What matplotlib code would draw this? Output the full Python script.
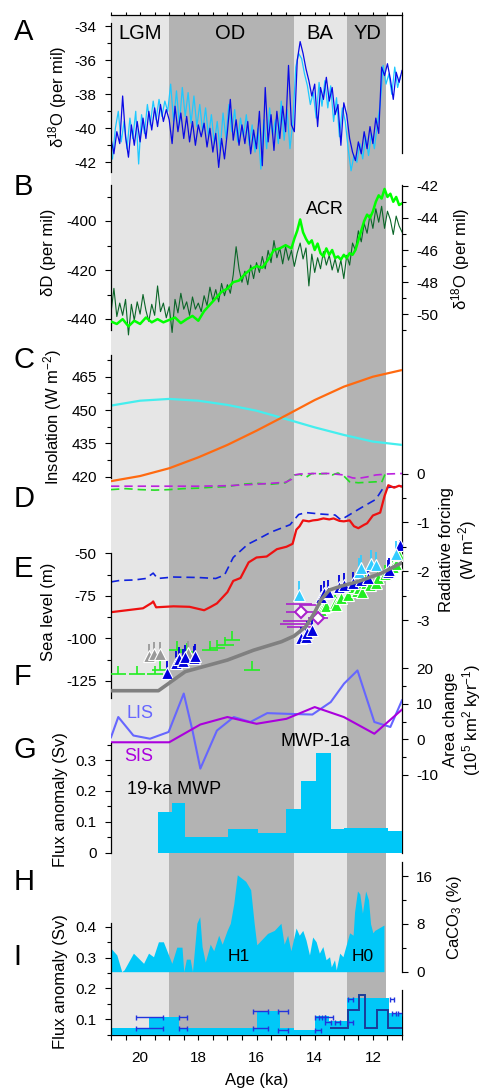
import numpy as np
import matplotlib.pyplot as plt

plt.rcParams['font.family'] = ['Liberation Sans', 'DejaVu Sans']
plt.rcParams['mathtext.fontset'] = 'custom'
plt.rcParams['mathtext.rm'] = 'Liberation Sans'
plt.rcParams['mathtext.it'] = 'Liberation Sans:italic'
plt.rcParams['axes.unicode_minus'] = False

W, H = 482, 1091          # output size, px
XL, XR = 111, 402         # left / right edge of the plot area, px
TICK_FS = 11
LABEL_FS = 12

# ---------------- data ----------------
period_names = ['LGM', 'OD', 'BA', 'YD']
period_edges = [21.0, 19.0, 14.7, 12.9, 11.55]
period_colors = ['#e6e6e6', '#b3b3b3', '#e6e6e6', '#b3b3b3']
period_label_age = [20.0, 16.9, 13.82, 12.18]

age_major = [20, 18, 16, 14, 12]
age_minor = list(np.arange(11.0, 21.01, 0.5))

# A: Greenland d18O, two records
a_blue_age = np.round(np.arange(21.0, 10.95, -0.1), 2)
a_blue = [-40.6, -41.5, -40.2, -40.9, -38.1, -40.5, -41.7, -39.8, -41.0, -39.6,
          -40.8, -39.4, -40.6, -39.0, -40.1, -38.8, -39.9, -38.6, -39.6, -38.9,
          -39.5, -40.9, -38.7, -40.2, -39.1, -40.6, -39.3, -40.8, -39.6, -41.0,
          -39.8, -40.5, -39.7, -41.1, -40.0, -41.4, -40.3, -42.3, -40.6, -41.8,
          -40.2, -38.3, -40.7, -39.5, -41.0, -39.8, -40.9, -39.6, -41.5, -40.1,
          -41.2, -39.0, -42.2, -37.6, -40.8, -39.2, -41.3, -39.0, -40.6, -38.7,
          -40.2, -36.3, -39.8, -40.2, -36.0, -34.9, -35.6, -36.5, -37.2, -38.1,
          -37.4, -39.9, -37.6, -38.3, -37.0, -38.4, -37.6, -39.2, -38.6, -41.0,
          -38.5, -39.2, -40.6, -41.4, -41.9, -40.8, -41.5, -40.2, -41.2, -39.9,
          -40.9, -39.4, -40.3, -36.4, -36.9, -36.2, -37.1, -38.3, -36.7, -37.3,
          -36.6]
a_cyan_age = np.round(np.arange(20.95, 11.0, -0.1), 2)
a_cyan = [-41.8, -40.0, -39.0, -40.8, -39.6, -41.2, -39.4, -40.6, -39.0, -42.1,
          -39.2, -40.3, -38.6, -39.8, -38.4, -39.5, -38.3, -39.3, -38.4, -39.0,
          -37.4, -39.6, -37.8, -39.8, -37.6, -39.3, -37.9, -39.7, -38.1, -39.9,
          -38.6, -40.2, -38.8, -40.5, -39.2, -40.9, -39.6, -41.3, -39.1, -40.6,
          -38.6, -40.2, -38.9, -40.8, -39.4, -40.5, -39.2, -41.0, -39.8, -41.4,
          -40.0, -42.4, -39.5, -41.2, -38.8, -40.4, -39.5, -40.9, -38.4, -40.7,
          -38.9, -41.2, -39.6, -36.4, -35.6, -35.9, -36.8, -37.5, -38.6, -37.9,
          -39.4, -37.3, -38.7, -37.2, -38.8, -37.5, -39.6, -38.2, -40.5, -38.8,
          -39.6, -41.2, -42.5, -41.6, -42.0, -40.9, -41.8, -40.5, -41.6, -40.3,
          -41.2, -39.8, -38.6, -36.3, -37.4, -36.8, -38.0, -36.4, -37.6, -36.9]

# B: Antarctic dD (dark green) and d18O (bright green)
b_dd_age = np.round(np.arange(21.0, 10.95, -0.1), 2)
b_dd = [-437.5, -427.5, -439.0, -433.5, -438.5, -432.0, -446.5, -434.0, -440.5, -433.0,
        -438.0, -430.0, -436.5, -441.0, -434.0, -438.5, -426.5, -437.0, -433.5, -439.5,
        -435.0, -445.5, -432.0, -437.5, -429.5, -436.0, -433.0, -438.5, -431.0, -436.0,
        -433.5, -437.0, -430.5, -434.5, -427.0, -432.5, -428.0, -433.0, -425.5, -430.5,
        -426.0, -429.5, -422.0, -410.5, -419.5, -425.0, -420.5, -426.0, -418.0, -423.5,
        -417.0, -421.0, -414.5, -419.5, -412.0, -417.0, -408.0, -415.0, -411.0, -417.5,
        -410.5, -416.0, -412.0, -418.5, -413.0, -409.0, -415.5, -411.0, -426.5, -413.5,
        -421.0, -415.0, -419.5, -412.5, -418.0, -414.0, -420.0, -415.5, -421.0, -416.0,
        -423.5, -414.0, -418.0, -409.0, -412.0, -404.0, -408.5, -401.0, -405.0, -397.5,
        -403.0, -395.0, -400.5, -394.0, -403.0, -396.0, -399.5, -405.5, -398.0, -402.0,
        -404.5]
b_o18_age = [21.0, 20.8, 20.6, 20.4, 20.2, 20.0, 19.8, 19.6, 19.4, 19.2, 19.0, 18.8,
             18.6, 18.4, 18.2, 18.0, 17.8, 17.6, 17.4, 17.2, 17.0, 16.8, 16.6, 16.4,
             16.2, 16.0, 15.8, 15.6, 15.4, 15.2, 15.0, 14.8, 14.7, 14.6, 14.5, 14.4,
             14.3, 14.2, 14.1, 14.0, 13.9, 13.8, 13.7, 13.6, 13.5, 13.4, 13.3, 13.2,
             13.1, 13.0, 12.9, 12.8, 12.7, 12.6, 12.5, 12.4, 12.3, 12.2, 12.1, 12.0,
             11.9, 11.8, 11.7, 11.6, 11.5, 11.4, 11.3, 11.2, 11.1, 11.0]
b_o18 = [-50.45, -50.6, -50.3, -50.75, -50.4, -50.6, -50.2, -50.5, -50.3, -50.5, -50.35, -50.2,
         -50.55, -50.3, -50.1, -50.4, -49.8, -49.4, -49.0, -48.6, -48.4, -48.0, -47.9, -47.5,
         -47.2, -47.0, -47.1, -46.6, -46.0, -45.9, -45.7, -45.9, -45.3, -44.8, -44.1, -44.9,
         -45.3, -45.6, -45.4, -46.0, -45.6, -46.2, -46.4, -45.9, -46.3, -46.0, -46.5, -46.4,
         -46.6, -46.3, -46.5, -46.2, -46.3, -46.0, -45.4, -44.8, -44.2, -43.8, -44.0, -43.6,
         -43.0, -42.6, -42.8, -42.2, -42.7, -42.5, -43.0, -42.7, -43.2, -43.1]

# C: insolation
ins_age = [21, 20, 19, 18, 17, 16, 15, 14, 13, 12, 11]
ins_cyan = [452.0, 454.2, 455.0, 454.2, 452.3, 449.7, 446.0, 442.2, 438.8, 435.8, 434.3]
ins_orange = [418.0, 420.3, 423.8, 428.7, 434.3, 440.7, 447.5, 454.5, 460.5, 465.0, 468.0]

# D: radiative forcing
rf_green_age = [21.0, 20.5, 20.0, 19.5, 19.0, 18.5, 18.0, 17.5, 17.0, 16.5, 16.0, 15.5,
                15.0, 14.8, 14.7, 14.5, 14.3, 14.1, 13.9, 13.6, 13.4, 13.2, 13.0, 12.8,
                12.5, 12.2, 11.9, 11.7, 11.55]
rf_green = [-0.33, -0.31, -0.33, -0.34, -0.33, -0.31, -0.30, -0.28, -0.27, -0.22, -0.20, -0.22,
            -0.19, -0.10, -0.03, -0.02, -0.08, 0.0, -0.01, 0.0, -0.03, 0.01, -0.05, -0.17,
            -0.19, -0.18, -0.17, -0.18, 0.03]
rf_purple_age = [21.0, 20.0, 19.0, 18.0, 17.0, 16.0, 15.0, 14.8, 14.7, 14.5, 14.0, 13.5,
                 13.0, 12.7, 12.5, 12.2, 11.9, 11.5, 11.0]
rf_purple = [-0.26, -0.26, -0.26, -0.26, -0.25, -0.22, -0.18, -0.12, -0.03, -0.01, 0.0, 0.0,
             -0.03, -0.09, -0.10, -0.07, -0.03, -0.01, 0.0]
rf_blue_age = [21.0, 20.7, 20.2, 19.8, 19.55, 19.4, 18.85, 18.0, 17.4, 17.1, 16.8, 16.3,
               16.0, 15.5, 14.85, 14.55, 14.3, 13.8, 13.3, 13.1, 12.4, 11.9, 11.65, 11.4, 11.0]
rf_blue = [-2.22, -2.19, -2.18, -2.15, -2.04, -2.15, -2.12, -2.13, -2.15, -2.08, -1.72, -1.45,
           -1.36, -1.20, -1.05, -0.84, -0.80, -0.83, -0.85, -0.95, -0.70, -0.53, -0.30, -0.28, -0.26]
rf_red_age = [21.0, 20.45, 19.9, 19.6, 19.55, 19.45, 18.85, 18.3, 17.8, 17.6, 17.36, 17.0,
              16.8, 16.55, 16.27, 16.0, 15.65, 15.3, 14.97, 14.76, 14.63, 14.52, 14.4, 14.2,
              14.06, 13.9, 13.7, 13.5, 13.35, 13.15, 13.0, 12.8, 12.65, 12.5, 12.3, 12.2,
              12.0, 11.75, 11.6, 11.47, 11.27, 11.1, 11.0]
rf_red = [-2.84, -2.80, -2.76, -2.65, -2.62, -2.74, -2.72, -2.73, -2.80, -2.74, -2.66, -2.43,
          -2.20, -2.14, -1.82, -1.72, -1.70, -1.55, -1.50, -1.44, -1.15, -1.08, -0.96, -0.98,
          -0.96, -0.95, -0.92, -0.94, -0.92, -0.97, -0.98, -0.96, -1.08, -1.12, -1.05, -1.02,
          -0.86, -0.80, -0.46, -0.24, -0.29, -0.25, -0.27]

# E: sea level
sl_age = [21.0, 19.37, 18.45, 17.0, 16.1, 15.14, 14.71, 14.31, 14.02, 13.79, 13.5, 13.1,
          12.53, 11.72, 11.0]
sl_curve = [-130.7, -130.7, -119.5, -112.7, -106.9, -101.9, -98.6, -93.1, -85.3, -77.5,
            -71.6, -69.3, -66.7, -61.8, -55.5]
tri_gray_age = [19.68, 19.51, 19.33, 18.36]
tri_gray_sl = [-110.3, -109.2, -109.2, -108.8]
tri_blue_age = [19.06, 18.77, 18.68, 18.53, 18.45, 18.16, 18.10, 14.48, 14.31, 14.25, 14.08,
                13.79, 13.68, 13.56, 13.16, 12.99, 12.70, 12.41, 12.18, 11.49, 11.44, 11.08]
tri_blue_sl = [-120.5, -114.6, -112.3, -113.1, -111.1, -111.7, -110.3, -100.0, -99.0, -97.0, -95.1,
               -75.5, -73.5, -72.6, -69.7, -68.7, -67.7, -65.7, -64.7, -60.8, -59.9, -45.0]
tri_green_age = [13.79, 13.68, 13.60, 13.30, 13.28, 13.10, 12.87, 12.70, 12.55, 12.47, 12.36,
                 12.24, 12.10, 11.90, 11.84, 11.60, 11.32, 11.20, 11.09]
tri_green_sl = [-83.3, -81.4, -81.0, -79.4, -80.4, -76.0, -74.5, -69.7, -72.0, -70.6, -72.6,
                -67.7, -68.5, -67.7, -64.7, -62.0, -57.9, -56.0, -51.1]
tri_cyan_age = [14.54, 12.47, 12.41, 12.07, 11.90, 11.20]
tri_cyan_sl = [-74.5, -60.8, -58.9, -56.0, -57.0, -50.5]
lim_green_age = [20.75, 20.11, 19.48, 19.31, 18.73, 18.39, 17.59, 17.36, 17.07, 16.84, 16.15]
lim_green_sl = [-120.9, -120.9, -120.9, -118.5, -106.8, -107.8, -106.8, -105.8, -103.9, -100.9, -118.5]
dia_age = [14.48, 13.89]
dia_sl = [-84.7, -87.8]
dia_xerr = [0.5, 0.35]
bar_purple_age = [14.55, 14.60, 14.65, 14.50, 14.25]
bar_purple_sl = [-79.5, -89.5, -91.5, -93.5, -80.5]
bar_purple_xerr = [0.45, 0.50, 0.55, 0.45, 0.30]

# F: ice-sheet area change
lis_age = [21.0, 20.75, 20.23, 19.66, 19.02, 18.5, 18.2, 17.93, 17.36, 16.78, 16.21, 15.63,
           14.94, 14.08, 13.45, 12.99, 12.53, 11.95, 11.4, 11.0]
lis = [0.6, 6.3, 1.1, 0.2, 2.1, 12.9, 2.5, -8.2, 2.5, 6.3, 4.9, 7.4, 7.2, 7.0, 10.5, 15.7,
       19.4, 4.9, 3.5, 11.0]
sis_age = [21.0, 19.0, 17.93, 17.0, 16.0, 14.97, 14.0, 13.0, 11.95, 11.0]
sis = [-0.8, -0.8, 4.2, 6.3, 4.4, 5.8, 9.1, 6.3, 1.6, 8.4]

# G: meltwater flux anomaly (bins, ascending age)
g_edges = [11.0, 11.49, 11.97, 12.99, 13.45, 13.97, 14.48, 14.97, 15.95, 16.98, 18.45, 18.91, 19.37]
g_flux = [0.07, 0.08, 0.079, 0.077, 0.322, 0.232, 0.14, 0.063, 0.077, 0.052, 0.162, 0.133]

# H: CaCO3
h_age = [21.0, 20.8, 20.63, 20.55, 20.23, 19.88, 19.71, 19.54, 19.37, 19.2, 18.91, 18.74,
         18.56, 18.5, 18.41, 18.28, 18.2, 18.05, 17.95, 17.87, 17.76, 17.59, 17.47, 17.3,
         17.18, 17.01, 16.9, 16.78, 16.66, 16.37, 16.2, 16.08, 15.99, 15.62, 15.39, 15.16,
         15.05, 14.93, 14.82, 14.64, 14.53, 14.41, 14.3, 14.18, 14.07, 13.95, 13.84, 13.72,
         13.61, 13.49, 13.43, 13.32, 13.26, 13.14, 13.03, 12.91, 12.8, 12.68, 12.63, 12.53,
         12.45, 12.36, 12.25, 12.15, 12.08, 12.0, 11.94, 11.62]
h_caco3 = [3.9, 2.8, 0.0, 0.3, 3.1, 1.4, 3.1, 2.5, 5.0, 5.0, 1.4, 4.1,
           4.1, 0.0, 2.1, 2.1, 0.0, 8.1, 9.2, 4.2, 1.6, 4.6, 3.5, 6.1,
           4.6, 6.9, 8.1, 11.4, 16.2, 15.1, 13.7, 8.1, 4.5, 6.4, 6.9, 8.1,
           4.6, 6.1, 3.5, 7.3, 6.1, 6.9, 5.3, 2.8, 5.8, 5.0, 3.1, 4.2,
           2.0, 2.5, 0.8, 2.0, 0.3, 3.1, 2.5, 4.6, 6.5, 6.1, 10.0, 13.5,
           13.0, 9.8, 13.5, 12.0, 8.0, 6.5, 6.9, 7.8]

# I: flux anomaly, model input (bins, ascending age) and reconstruction steps
i_edges = [11.0, 11.45, 12.9, 13.5, 14.0, 14.7, 15.2, 16.0, 18.65, 19.7, 21.0]
i_flux = [0.121, 0.168, 0.093, 0.11, 0.066, 0.071, 0.128, 0.071, 0.108, 0.071]
i_step_edges = [11.0, 11.49, 11.86, 12.26, 12.47, 12.87, 13.47]
i_step = [0.071, 0.13, 0.071, 0.18, 0.13, 0.071]
i_eb_age = [19.67, 19.67, 18.53, 18.53, 15.86, 15.86, 15.09, 15.09, 13.87, 13.75, 13.50,
            13.55, 13.22, 13.89, 12.78, 12.78, 11.35, 11.28, 11.05]
i_eb_hw = [0.47, 0.47, 0.13, 0.13, 0.27, 0.27, 0.16, 0.16, 0.13, 0.09, 0.13,
           0.10, 0.09, 0.11, 0.08, 0.08, 0.07, 0.075, 0.085]
i_eb_flux = [0.108, 0.071, 0.108, 0.071, 0.128, 0.071, 0.128, 0.065, 0.108, 0.109, 0.108,
             0.092, 0.092, 0.065, 0.166, 0.092, 0.166, 0.121, 0.121]

# ---------------- layout helpers ----------------
fig = plt.figure(figsize=(W / 100, H / 100), dpi=100)


def px_box(top, bottom):
    return [XL / W, 1 - bottom / H, (XR - XL) / W, (bottom - top) / H]


def panel(top, bottom, v1, p1, v2, p2, right=False):
    """Transparent axes spanning pixel rows top..bottom; value v1 sits at row p1, v2 at p2."""
    ax = fig.add_axes(px_box(top, bottom))
    ax.patch.set_visible(False)
    k = (v2 - v1) / (p2 - p1)
    ax.set_ylim(v1 + (bottom - p1) * k, v1 + (top - p1) * k)
    ax.set_xlim(21, 11)
    ax.set_xticks([])
    for s in ax.spines.values():
        s.set_visible(False)
    if right:
        ax.yaxis.tick_right()
    ax.tick_params(axis='y', which='major', direction='out', length=4.3, width=0.8,
                   pad=6, labelsize=TICK_FS)
    ax.tick_params(axis='y', which='minor', direction='out', length=2.7, width=0.8)
    ax.px2val = lambda p: v1 + (p - p1) * k
    return ax


def yticks(ax, major, minor):
    ax.set_yticks(major)
    ax.set_yticklabels([f'{v:g}' for v in major])
    ax.set_yticks(minor, minor=True)


def spine(ax, side, ptop, pbot):
    sp = ax.spines[side]
    sp.set_visible(True)
    sp.set_linewidth(0.9)
    sp.set_bounds(ax.px2val(pbot), ax.px2val(ptop))


def ftext(x, y, s, **kw):
    fig.text(x / W, 1 - y / H, s, **kw)


# ---------------- background: periods and age axis ----------------
bg = fig.add_axes(px_box(15, 1035))
bg.set_xlim(21, 11)
bg.set_ylim(0, 1)
bg.set_yticks([])
for i in range(len(period_names)):
    bg.axvspan(period_edges[i], period_edges[i + 1], color=period_colors[i], lw=0)
for side in ['left', 'right', 'top']:
    bg.spines[side].set_visible(False)
bg.spines['bottom'].set_linewidth(0.9)
bg.set_xticks(age_major)
bg.set_xticklabels([str(a) for a in age_major])
bg.set_xticks(age_minor, minor=True)
bg.tick_params(axis='x', which='both', direction='out', length=3.6, width=0.8,
               pad=8, labelsize=TICK_FS)
span = 1035 - 15
bg.axvline(11, ymin=(1035 - 853) / span, ymax=(1035 - 185) / span, color='k', lw=0.9, clip_on=False)
bg.axvline(11, ymin=0, ymax=(1035 - 990) / span, color='k', lw=0.9, clip_on=False)
ftext(256.5, 1081, 'Age (ka)', ha='center', va='center', fontsize=LABEL_FS)

# ---------------- A ----------------
ax_a = panel(15, 180, -34, 26.3, -42, 162.3)
yticks(ax_a, [-34, -36, -38, -40, -42], [-35, -37, -39, -41])
spine(ax_a, 'left', 22.7, 172)
spine(ax_a, 'right', 15, 152.7)
ax_a.spines['top'].set_visible(True)
ax_a.spines['top'].set_linewidth(0.9)
ax_a.xaxis.tick_top()
ax_a.set_xticks(age_minor)
ax_a.set_xticklabels([])
ax_a.tick_params(axis='x', direction='out', length=2.5, width=0.8)
ax_a.plot(a_cyan_age, a_cyan, color='#1ec8ff', lw=0.9)
ax_a.plot(a_blue_age, a_blue, color='#0a0ae6', lw=0.9)
for name, age in zip(period_names, period_label_age):
    ax_a.text(age, -34.42, name, ha='center', va='center', fontsize=14.5)

# ---------------- B ----------------
ax_b = panel(180, 345, -400, 221, -440, 319)
yticks(ax_b, [-400, -420, -440], [-390, -410, -430])
spine(ax_b, 'left', 185, 330)
ax_b.plot(b_dd_age, b_dd, color='#0b6628', lw=0.8)
ax_b2 = panel(180, 345, -42, 185.7, -50, 314.3, right=True)
yticks(ax_b2, [-42, -44, -46, -48, -50], [-43, -45, -47, -49, -51])
ax_b2.plot(b_o18_age, b_o18, color='#00ff00', lw=1.8)
ax_b2.text(13.66, -43.5, 'ACR', ha='center', va='center', fontsize=13)

# ---------------- C ----------------
ax_c = panel(345, 490, 465, 376.7, 420, 476.7)
yticks(ax_c, [420, 435, 450, 465], [427.5, 442.5, 457.5, 472.5])
spine(ax_c, 'left', 355, 478.3)
ax_c.plot(ins_age, ins_cyan, color='#44eeee', lw=1.6)
ax_c.plot(ins_age, ins_orange, color='#ff6a10', lw=1.6)

# ---------------- D ----------------
ax_d = panel(460, 640, 0, 473.5, -3, 620, right=True)
yticks(ax_d, [0, -1, -2, -3], [-0.5, -1.5, -2.5])
ax_d.plot(rf_green_age, rf_green, color='#22dd22', lw=1.2, dashes=(5, 3))
ax_d.plot(rf_purple_age, rf_purple, color='#bb22dd', lw=1.2, dashes=(5, 3))
ax_d.plot(rf_blue_age, rf_blue, color='#1122dd', lw=1.2, dashes=(5, 3))
ax_d.plot(rf_red_age, rf_red, color='#ee1111', lw=1.6)

# ---------------- E ----------------
ax_e = panel(540, 705, -50, 553.3, -125, 681)
yticks(ax_e, [-50, -75, -100, -125], [-62.5, -87.5, -112.5])
spine(ax_e, 'left', 553.3, 698.3)


def triangles(ages, sls, color, up):
    n = len(ages)
    ax_e.errorbar(ages, sls, yerr=[np.zeros(n), np.full(n, up)], fmt='none',
                  ecolor=color, elinewidth=1.3, capsize=0, zorder=3)
    ax_e.plot(ages, sls, ls='none', marker='^', ms=8, mfc=color, mec='white',
              mew=0.8, zorder=4)


n_lim = len(lim_green_age)
ax_e.errorbar(lim_green_age, lim_green_sl, xerr=0.28, yerr=[np.zeros(n_lim), np.full(n_lim, 5.0)],
              fmt='none', ecolor='#22ee22', elinewidth=1.2, capsize=0, zorder=3)
ax_e.errorbar(bar_purple_age, bar_purple_sl, xerr=bar_purple_xerr, fmt='none',
              ecolor='#aa22cc', elinewidth=1.2, capsize=0, zorder=3)
triangles(tri_gray_age, tri_gray_sl, '#999999', 7.0)
triangles(tri_green_age, tri_green_sl, '#22ee22', 5.0)
triangles(tri_blue_age, tri_blue_sl, '#0000dd', 7.0)
triangles(tri_cyan_age, tri_cyan_sl, '#33ccff', 8.0)
ax_e.errorbar(dia_age, dia_sl, xerr=dia_xerr, fmt='D', ms=6, mfc='white', mec='#aa22cc',
              mew=1.5, ecolor='#aa22cc', elinewidth=1.2, capsize=0, zorder=5)
ax_e.plot(sl_age, sl_curve, color='#808080', lw=2.6, zorder=6)

# ---------------- F ----------------
ax_f = panel(650, 800, 20, 668.3, -10, 775, right=True)
yticks(ax_f, [20, 10, 0, -10], [15, 5, -5])
ax_f.plot(lis_age, lis, color='#6666ff', lw=1.5)
ax_f.plot(sis_age, sis, color='#aa00dd', lw=1.5)
ax_f.text(20.0, 7.4, 'LIS', color='#6666ff', ha='center', va='center', fontsize=13)
ax_f.text(20.06, -4.8, 'SIS', color='#aa00dd', ha='center', va='center', fontsize=13)

# ---------------- G ----------------
ax_g = panel(735, 860, 0.3, 760, 0, 852.7)
yticks(ax_g, [0, 0.1, 0.2, 0.3], [0.05, 0.15, 0.25, 0.35])
spine(ax_g, 'left', 743, 852.7)
ax_g.stairs(g_flux, g_edges, baseline=0, fill=True, color='#00c8f8', lw=0)
ax_g.text(18.85, 0.203, '19-ka MWP', ha='center', va='center', fontsize=13)
ax_g.text(13.97, 0.359, 'MWP-1a', ha='center', va='center', fontsize=13)

# ---------------- H ----------------
ax_h = panel(855, 975, 16, 876, 0, 971.7, right=True)
yticks(ax_h, [0, 8, 16], [4, 12])
spine(ax_h, 'right', 861.7, 971.7)
ax_h.fill_between(h_age, 0, h_caco3, color='#00c8f8', lw=0)
ax_h.text(16.61, 2.5, 'H1', ha='center', va='center', fontsize=12.5)
ax_h.text(12.36, 2.5, 'H0', ha='center', va='center', fontsize=12.5)

# ---------------- I ----------------
ax_i = panel(915, 1035, 0.4, 926.7, 0.1, 1019.3)
yticks(ax_i, [0.1, 0.2, 0.3, 0.4], [0.05, 0.15, 0.25, 0.35])
spine(ax_i, 'left', 923, 1035)
ax_i.stairs(i_flux, i_edges, baseline=0, fill=True, color='#00c8f8', lw=0)
ax_i.stairs(i_step, i_step_edges, baseline=None, color='#1a3c9a', lw=1.4)
ax_i.errorbar(i_eb_age, i_eb_flux, xerr=i_eb_hw, fmt='none', ecolor='#2233dd',
              elinewidth=1.0, capsize=1.8, capthick=1.0)

# ---------------- axis labels and panel letters ----------------
rot = dict(rotation=90, ha='center', va='center', fontsize=LABEL_FS)
ftext(58, 97, 'δ$^{18}$O (per mil)', **rot)
ftext(48, 252, 'δD (per mil)', **rot)
ftext(461, 259, 'δ$^{18}$O (per mil)', **rot)
ftext(53, 417, 'Insolation (W m$^{-2}$)', **rot)
ftext(459, 550, 'Radiative forcing\n(W m$^{-2}$)', multialignment='center',
      linespacing=1.1, **rot)
ftext(48, 612, 'Sea level (m)', **rot)
ftext(463, 720, 'Area change\n(10$^5$ km$^2$ kyr$^{-1}$)', multialignment='center',
      linespacing=1.1, **rot)
ftext(60, 800, 'Flux anomaly (Sv)', **rot)
ftext(454, 918, 'CaCO$_3$ (%)', **rot)
ftext(60, 982, 'Flux anomaly (Sv)', **rot)

letters = ['A', 'B', 'C', 'D', 'E', 'F', 'G', 'H', 'I']
letter_rows = [32, 187, 360, 499, 569, 677, 750, 882, 957]
for letter, row in zip(letters, letter_rows):
    ftext(13.5, row, letter, ha='left', va='center', fontsize=21)

fig.savefig('out.png', dpi=100)
